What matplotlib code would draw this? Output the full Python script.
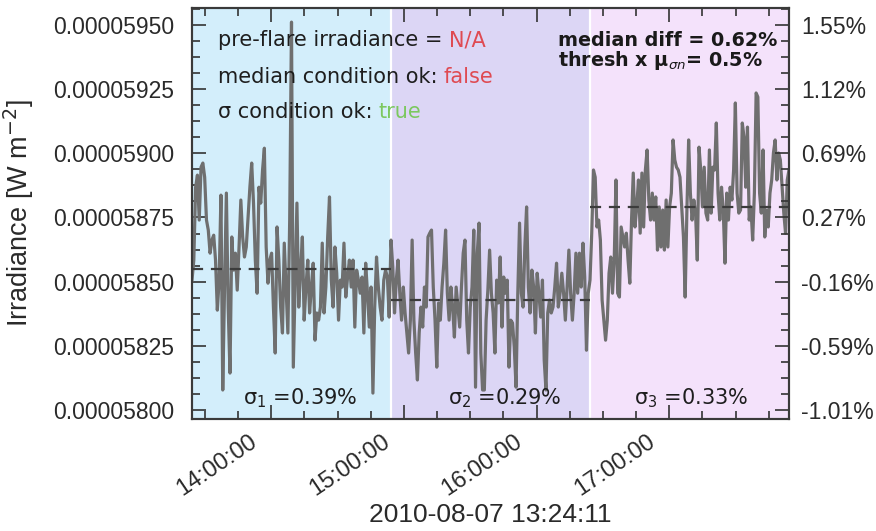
import numpy as np
import matplotlib
matplotlib.use('Agg')
import matplotlib.pyplot as plt
import matplotlib.dates as mdates
import matplotlib.transforms as mtransforms
from matplotlib.ticker import FixedLocator, AutoMinorLocator, FuncFormatter
import pandas as pd

# ---------------- data ----------------
window_edges = ['2010-08-07 13:24:11', '2010-08-07 14:54:11',
                '2010-08-07 16:24:11', '2010-08-07 17:54:11']
x_label = '2010-08-07 13:24:11'

# irradiance in units of 1e-5 W m^-2
irr_win1 = [5.8506, 5.8584, 5.8868, 5.8915, 5.8740, 5.8946, 5.8962, 5.8907, 5.8740, 5.8701,
            5.8611, 5.8662, 5.8681, 5.8584, 5.8389, 5.8506, 5.8837, 5.8078, 5.8479, 5.8845,
            5.8401, 5.8144, 5.8674, 5.8545, 5.8611, 5.8467, 5.8635, 5.8818, 5.8674, 5.8596,
            5.8635, 5.8752, 5.8868, 5.8962, 5.8806, 5.8584, 5.8455, 5.8868, 5.8806, 5.8935,
            5.9020, 5.8635, 5.8494, 5.8584, 5.8611, 5.8401, 5.8222, 5.8713, 5.8584, 5.8401,
            5.8300, 5.8650, 5.8479, 5.8300, 5.8740, 5.9511, 5.8167, 5.8479, 5.8806, 5.8401,
            5.8545, 5.8674, 5.8350, 5.8479, 5.8584, 5.8378, 5.8479, 5.8572, 5.8272, 5.8378,
            5.8350, 5.8401, 5.8650, 5.8378, 5.8479, 5.8674, 5.8830, 5.8506, 5.8401, 5.8635,
            5.8533, 5.8350, 5.8506, 5.8479, 5.8650, 5.8440, 5.8518, 5.8584, 5.8479, 5.8584,
            5.8323, 5.8545, 5.8506, 5.8455, 5.8518, 5.8300, 5.8572, 5.8455, 5.8323, 5.8479,
            5.8066, 5.8401, 5.8596, 5.8479, 5.8401, 5.8350, 5.8506, 5.8545, 5.8518, 5.8362]
irr_win2 = [5.8662, 5.8557, 5.8378, 5.8506, 5.8584, 5.8455, 5.8350, 5.8479, 5.8378, 5.8300,
            5.8222, 5.8350, 5.8662, 5.8350, 5.8222, 5.8117, 5.8300, 5.8401, 5.8323, 5.8479,
            5.8401, 5.8674, 5.8689, 5.8701, 5.8479, 5.8350, 5.8167, 5.8417, 5.8350, 5.8479,
            5.8572, 5.8701, 5.8455, 5.8350, 5.8479, 5.8401, 5.8284, 5.8479, 5.8401, 5.8323,
            5.8479, 5.8611, 5.8662, 5.8350, 5.8222, 5.8401, 5.8479, 5.8701, 5.8089, 5.8611,
            5.8728, 5.8222, 5.8078, 5.8078, 5.8350,
            5.8467, 5.8623, 5.8455, 5.8378, 5.8222, 5.8506, 5.8417, 5.8596, 5.8323, 5.8518,
            5.8455, 5.8506, 5.8167, 5.8350, 5.8339, 5.8245, 5.8089, 5.8455, 5.8728, 5.8455,
            5.8401, 5.8635, 5.8791, 5.8479, 5.8378, 5.8545, 5.8479, 5.8300, 5.8533, 5.8455,
            5.8362, 5.8506, 5.8194, 5.8078, 5.8378, 5.8428, 5.8378, 5.8401, 5.8479, 5.8572,
            5.8401, 5.8455, 5.8533, 5.8455, 5.8350, 5.8479, 5.8623, 5.8455, 5.8350, 5.8455,
            5.8611, 5.8455, 5.8611, 5.8479, 5.8650, 5.8518, 5.8233, 5.8455]
irr_win3 = [5.8506, 5.8689, 5.8935, 5.8907, 5.8713, 5.8740, 5.8662, 5.8428, 5.8350, 5.8272,
            5.8350, 5.8533, 5.8596, 5.8455, 5.8584, 5.8896, 5.8455, 5.8440, 5.8713, 5.8674,
            5.8635, 5.8689, 5.8584, 5.8494, 5.8740, 5.8923, 5.8713, 5.8791, 5.8896, 5.8689,
            5.8923, 5.8713, 5.8935, 5.9013, 5.8818, 5.8740, 5.8845, 5.8740, 5.8830, 5.8623,
            5.8791, 5.8635, 5.8779, 5.8623, 5.8818, 5.8635, 5.8791, 5.8845, 5.9052, 5.8974,
            5.8946, 5.8935, 5.8907, 5.8791, 5.8674, 5.8440, 5.8779, 5.9052, 5.8845, 5.8740,
            5.8818, 5.8767, 5.8584, 5.9024, 5.8935, 5.8791, 5.8946, 5.8767, 5.8740, 5.9013,
            5.8767, 5.8946, 5.8935, 5.9118, 5.8845, 5.8740, 5.8868, 5.8779, 5.8572, 5.8845,
            5.8740, 5.8868, 5.8818, 5.8935, 5.9196, 5.8845, 5.8767, 5.8779, 5.9118, 5.9063,
            5.8868, 5.9102, 5.8740, 5.8791, 5.8662, 5.8845, 5.9235, 5.9219, 5.8845, 5.8767,
            5.9013, 5.8674, 5.8779, 5.8713, 5.8845, 5.8896, 5.9001, 5.9052, 5.8896, 5.9001,
            5.8974, 5.8868, 5.8767, 5.8689, 5.8896, 5.8935]
medians = [5.8549, 5.8428, 5.8792]
sigma_names = ['1', '2', '3']
sigma_values = ['0.39%', '0.29%', '0.33%']
yticks = [5.800, 5.825, 5.850, 5.875, 5.900, 5.925, 5.950]
right_labels = ['-1.01%', '-0.59%', '-0.16%', '0.27%', '0.69%', '1.12%', '1.55%']
ylim = (5.7965, 5.9566)

scale = 1e-5
region_colors = ['#d3eefb', '#dcd6f5', '#f4e2fb']
line_color = '#6f6f6f'
tick_color = '#333333'
text_dark = '#2a2a2a'

# ---------------- figure ----------------
fig = plt.figure(figsize=(8.76, 5.31), dpi=100)
ax = fig.add_axes([192 / 876, 1 - 419 / 531, 597 / 876, 411 / 531])

edges = [mdates.date2num(pd.Timestamp(e)) for e in window_edges]
series = [irr_win1, irr_win2, irr_win3]

all_t, all_v = [], []
for i, vals in enumerate(series):
    t = np.linspace(edges[i], edges[i + 1], len(vals), endpoint=(i == 2))
    all_t.append(t)
    all_v.append(np.array(vals) * scale)
    ax.axvspan(edges[i], edges[i + 1], color=region_colors[i], lw=0, zorder=0)
for e in edges[1:-1]:
    ax.axvline(e, color='white', lw=1.6, zorder=1)

ax.plot(np.concatenate(all_t), np.concatenate(all_v), color=line_color, lw=2.3,
        zorder=3, solid_joinstyle='round')
for i, m in enumerate(medians):
    ax.hlines(m * scale, edges[i], edges[i + 1], colors='#3c3c3c', lw=1.6,
              linestyles=(0, (5, 3.5)), zorder=4)

ax.set_xlim(edges[0], edges[-1])
ax.set_ylim(ylim[0] * scale, ylim[1] * scale)

# x axis
ax.xaxis.set_major_locator(mdates.HourLocator())
ax.xaxis.set_minor_locator(mdates.MinuteLocator(byminute=[0, 15, 30, 45]))
ax.xaxis.set_major_formatter(mdates.DateFormatter('%H:%M:%S'))

# y axis
ax.yaxis.set_major_locator(FixedLocator([v * scale for v in yticks]))
ax.yaxis.set_minor_locator(AutoMinorLocator(4))
ax.yaxis.set_major_formatter(FuncFormatter(lambda v, p: '%.8f' % v))

ax.tick_params(which='both', direction='in', top=True, bottom=True, left=True,
               right=False, colors=tick_color, width=1.2)
ax.tick_params(which='major', length=10)
ax.tick_params(which='minor', length=6)
ax.tick_params(axis='y', labelsize=16.5, pad=13)
ax.tick_params(axis='x', labelsize=17, pad=8)
shift = mtransforms.ScaledTranslation(-10 / 100, 0, fig.dpi_scale_trans)
for lbl in ax.get_xticklabels():
    lbl.set_rotation(34)
    lbl.set_ha('right')
    lbl.set_va('top')
    lbl.set_transform(lbl.get_transform() + shift)
for lbl in ax.get_xticklabels() + ax.get_yticklabels():
    lbl.set_family('Liberation Sans')
    lbl.set_color(text_dark)

ax2 = ax.twinx()
ax2.set_ylim(ax.get_ylim())
ax2.yaxis.set_major_locator(FixedLocator([v * scale for v in yticks]))
ax2.yaxis.set_minor_locator(AutoMinorLocator(4))
ax2.set_yticklabels(right_labels)
ax2.tick_params(which='both', direction='in', colors=tick_color, width=1.2,
                labelsize=16.5, pad=9)
ax2.tick_params(which='major', length=10)
ax2.tick_params(which='minor', length=6)
for lbl in ax2.get_yticklabels():
    lbl.set_family('Liberation Sans')
    lbl.set_color(text_dark)

for a in (ax, ax2):
    for s in a.spines.values():
        s.set_color('#3a3a3a')
        s.set_linewidth(1.5)

ax.set_ylabel('Irradiance [W m$^{-2}$]', family='Liberation Sans', size=19.5,
              color=text_dark)
ax.yaxis.set_label_coords(-0.262, 0.5)
ax.set_xlabel(x_label, family='Liberation Sans', size=19, color=text_dark)
ax.xaxis.set_label_coords(0.5, -0.205)

# ---------------- annotations ----------------
ann_size = 15


def two_color(x, y, first, second, color2):
    t1 = ax.text(x, y, first, transform=ax.transAxes, va='center', ha='left',
                 family='DejaVu Sans', size=ann_size, color='#1e1e1e', zorder=6)
    ax.annotate(second, xy=(1, 0), xycoords=t1, va='bottom', ha='left',
                family='DejaVu Sans', size=ann_size, color=color2, zorder=6)


two_color(0.043, 0.922, 'pre-flare irradiance = ', 'N/A', '#df4a52')
two_color(0.043, 0.832, 'median condition ok: ', 'false', '#df4a52')
two_color(0.043, 0.747, '\u03c3 condition ok: ', 'true', '#7cc85f')

ax.text(0.613, 0.922, 'median diff = 0.62%', transform=ax.transAxes, ha='left',
        va='center', family='DejaVu Sans', weight='bold', size=13.8, color='#1a1a1a',
        zorder=6)
ax.text(0.613, 0.873, 'thresh x \u03bc$_{\\sigma n}$= 0.5%', transform=ax.transAxes,
        ha='left', va='center', family='DejaVu Sans', weight='bold', size=13.8,
        color='#1a1a1a', zorder=6)

sig_x = [0.181, 0.524, 0.836]
for i in range(3):
    ax.text(sig_x[i], 0.05, '\u03c3$_{%s}$ =%s' % (sigma_names[i], sigma_values[i]),
            transform=ax.transAxes, ha='center', va='center', family='DejaVu Sans',
            size=15, color='#1e1e1e', zorder=6)

fig.savefig('out.png', dpi=100, facecolor='white')
